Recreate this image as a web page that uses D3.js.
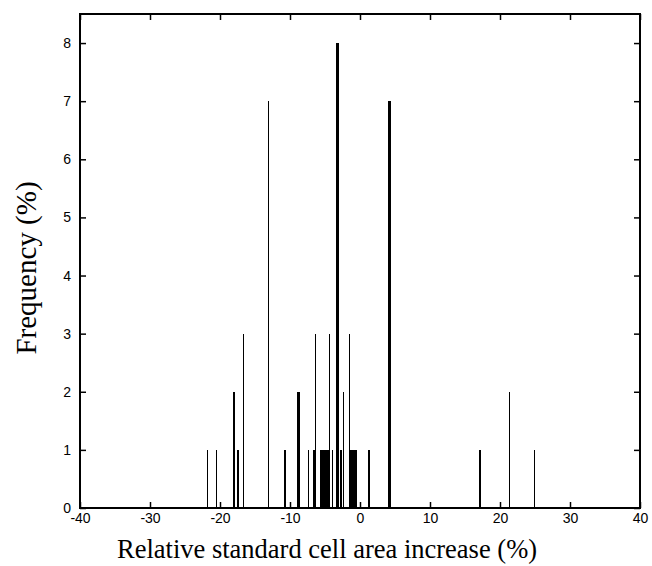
<!DOCTYPE html>
<html lang="en">
<head>
    <meta charset="UTF-8">
    <title>Relative standard cell area increase</title>
    <script src="https://d3js.org/d3.v7.min.js"></script>
    <style>
        body { margin: 0; background: #fff; }
        .tick text { font-family: "Liberation Sans", Arial, sans-serif; font-size: 14px; fill: #000; }
        .axis-title { font-family: "Liberation Serif", "Times New Roman", serif; fill: #000; }
    </style>
</head>
<body>
    <div id="chart"></div>

    <script>
        // histogram bins: bin centre (%) and frequency (%)
        const binWidth = 0.15;
        const binCenters = [
            -21.65, -20.4,
            -18.05, -17.9,
            -17.45, -17.3,
            -16.55, -13.0,
            -10.7, -10.55,
            -8.85, -8.7, -8.55,
            -7.25,
            -6.55, -6.4, -6.25,
            -5.55, -5.4, -5.25, -5.1, -4.95, -4.8, -4.65, -4.5, -4.35,
            -3.8, -3.35, -3.2, -3.05,
            -2.75, -2.6, -2.25,
            -1.45, -1.3, -1.15, -1.0, -0.85, -0.7, -0.55, -0.4,
            1.25, 1.4,
            4.1, 4.25, 4.4,
            17.1, 17.25,
            21.45, 25.0
        ];
        const frequencies = [
            1, 1,
            2, 2,
            1, 1,
            3, 7,
            1, 1,
            2, 2, 2,
            1,
            1, 1, 3,
            1, 1, 1, 1, 1, 1, 1, 1, 3,
            1, 8, 8, 8,
            1, 1, 2,
            3, 1, 1, 1, 1, 1, 1, 1,
            1, 1,
            7, 7, 7,
            1, 1,
            2, 1
        ];
        const xTicks = [-40, -30, -20, -10, 0, 10, 20, 30, 40];
        const yTicks = [0, 1, 2, 3, 4, 5, 6, 7, 8];

        const margin = {top: 14, right: 12, bottom: 58, left: 80},
            width = 652 - margin.left - margin.right,
            height = 566 - margin.top - margin.bottom;

        const svg = d3.select("#chart")
            .append("svg")
            .attr("width", 652)
            .attr("height", 566);

        const g = svg.append("g")
            .attr("transform", "translate(" + margin.left + "," + margin.top + ")");

        const x = d3.scaleLinear().domain([-40, 40]).range([0, width]);
        const y = d3.scaleLinear().domain([0, 8.5]).range([height, 0]);

        const bins = binCenters.map((c, i) => ({c: c, f: frequencies[i]}));

        // bars, snapped to whole pixels so adjacent bins form solid blocks
        const left = d => Math.floor(x(d.c - binWidth / 2));
        const right = d => Math.max(left(d) + 1, Math.floor(x(d.c + binWidth / 2)));

        g.selectAll("rect.bar")
            .data(bins)
            .enter()
            .append("rect")
            .attr("class", "bar")
            .attr("x", left)
            .attr("width", d => right(d) - left(d))
            .attr("y", d => Math.round(y(d.f)))
            .attr("height", d => Math.round(y(0)) - Math.round(y(d.f)))
            .attr("shape-rendering", "crispEdges")
            .style("fill", "#000");

        // axes, ticks pointing inward on all four sides
        const styleAxis = sel => {
            sel.select(".domain").remove();
            sel.selectAll(".tick line").style("stroke", "#000").style("stroke-width", 1.5);
        };
        const plain = d => String(d);

        g.append("g")
            .attr("transform", "translate(0," + height + ")")
            .call(d3.axisBottom(x).tickValues(xTicks).tickFormat(plain).tickSizeInner(-6).tickSizeOuter(0).tickPadding(5))
            .call(styleAxis);

        g.append("g")
            .call(d3.axisTop(x).tickValues(xTicks).tickSizeInner(-6).tickSizeOuter(0).tickFormat(""))
            .call(styleAxis);

        g.append("g")
            .call(d3.axisLeft(y).tickValues(yTicks).tickFormat(plain).tickSizeInner(-6).tickSizeOuter(0).tickPadding(9))
            .call(styleAxis);

        g.append("g")
            .attr("transform", "translate(" + width + ",0)")
            .call(d3.axisRight(y).tickValues(yTicks).tickSizeInner(-6).tickSizeOuter(0).tickFormat(""))
            .call(styleAxis);

        // box
        g.append("rect")
            .attr("width", width)
            .attr("height", height)
            .style("fill", "none")
            .style("stroke", "#000")
            .style("stroke-width", 2);

        // titles
        svg.append("text")
            .attr("class", "axis-title")
            .attr("x", 327)
            .attr("y", 558)
            .attr("text-anchor", "middle")
            .style("font-size", "26.5px")
            .text("Relative standard cell area increase (%)");

        svg.append("text")
            .attr("class", "axis-title")
            .attr("transform", "translate(36," + 268 + ") rotate(-90)")
            .attr("text-anchor", "middle")
            .style("font-size", "29px")
            .text("Frequency (%)");
    </script>
</body>
</html>
